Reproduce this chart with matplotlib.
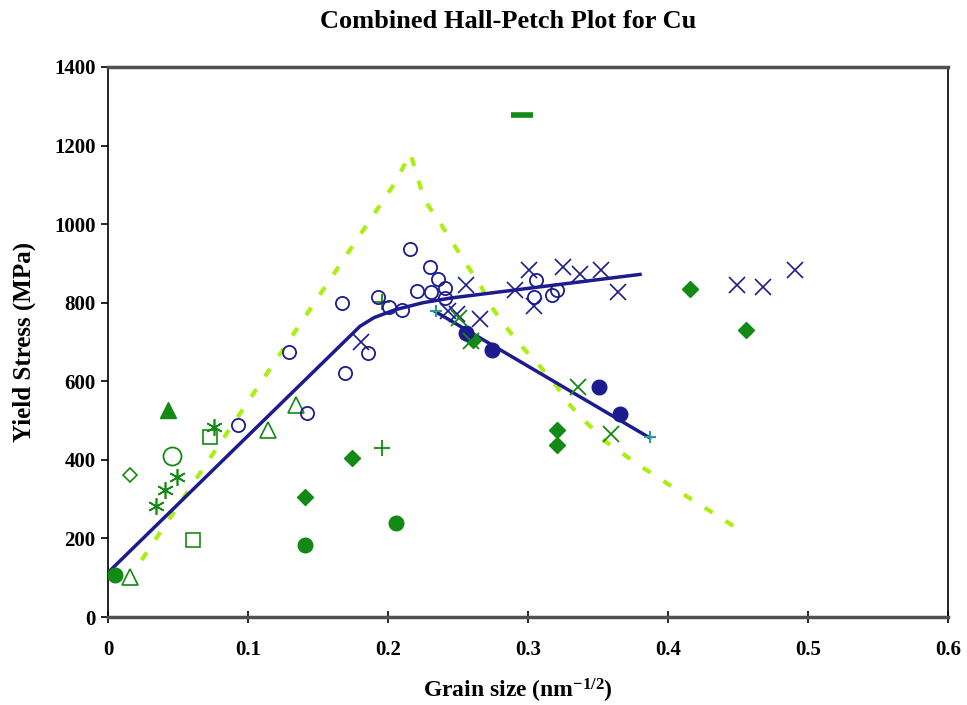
import matplotlib.pyplot as plt

plt.rcParams['font.family'] = ['Liberation Serif', 'DejaVu Serif']
plt.rcParams['font.weight'] = 'bold'
plt.rcParams['mathtext.default'] = 'regular'

green = '#138a13'
navy = '#1c1c8f'
lime = '#aaef10'
teal = '#2f9a96'

# fitted trend lines
fit1_x = [0.002, 0.180, 0.190, 0.205, 0.225, 0.245, 0.380]
fit1_y = [120, 740, 762, 782, 800, 812, 872]
fit2_x = [0.234, 0.387]
fit2_y = [777, 456]

# model curve (dashed)
model_x = [0.024, 0.205, 0.216, 0.226, 0.236, 0.246, 0.255, 0.266, 0.274, 0.285,
           0.296, 0.309, 0.321, 0.330, 0.342, 0.356, 0.380, 0.410, 0.448]
model_y = [145, 1105, 1180, 1061, 1010, 954, 903, 845, 789, 735,
           687, 636, 585, 539, 494, 445, 385, 315, 229]

# green data sets
g_fcirc_x = [0.005, 0.141, 0.206]
g_fcirc_y = [107, 183, 239]
g_fdiam_x = [0.141, 0.174, 0.261, 0.321, 0.321, 0.416, 0.456]
g_fdiam_y = [305, 405, 705, 477, 439, 835, 730]
g_ftri_x = [0.043]
g_ftri_y = [527]
g_otri_x = [0.016, 0.114, 0.134]
g_otri_y = [102, 476, 540]
g_osq_x = [0.061, 0.073]
g_osq_y = [196, 458]
g_ocirc_x = [0.046]
g_ocirc_y = [410]
g_odiam_x = [0.016]
g_odiam_y = [361]
g_ast_x = [0.034, 0.041, 0.049, 0.076]
g_ast_y = [282, 323, 356, 483]
g_plus_x = [0.196, 0.196]
g_plus_y = [430, 802]
g_cross_x = [0.251, 0.259, 0.336, 0.359]
g_cross_y = [761, 702, 585, 466]
g_dash_x = [0.296]
g_dash_y = [1278]
t_plus_x = [0.234, 0.387]
t_plus_y = [779, 458]

# blue data sets
b_ocirc_x = [0.093, 0.142, 0.129, 0.169, 0.167, 0.186, 0.193, 0.201, 0.210, 0.216,
             0.230, 0.236, 0.221, 0.231, 0.241, 0.241, 0.304, 0.306, 0.317, 0.321]
b_ocirc_y = [489, 519, 674, 621, 799, 672, 815, 789, 781, 937,
             891, 860, 830, 827, 837, 812, 814, 858, 819, 832]
b_fcirc_x = [0.256, 0.274, 0.351, 0.366]
b_fcirc_y = [723, 680, 585, 517]
b_cross_x = [0.181, 0.243, 0.249, 0.266, 0.256, 0.291, 0.301, 0.304, 0.325, 0.337,
             0.352, 0.364, 0.449, 0.468, 0.491]
b_cross_y = [700, 780, 772, 758, 845, 832, 882, 792, 890, 872,
             884, 827, 845, 840, 883]

fig = plt.figure(figsize=(9.67, 7.05), dpi=100)
ax = fig.add_axes([0.1117, 0.1248, 0.8686, 0.7802])

ax.plot(model_x, model_y, color=lime, lw=3, dashes=(2.2, 3.7), zorder=2)
ax.plot(fit1_x, fit1_y, color=navy, lw=2.5, zorder=3)
ax.plot(fit2_x, fit2_y, color=navy, lw=2.5, zorder=3)

ax.plot(g_fcirc_x, g_fcirc_y, 'o', color=green, ms=10.5, ls='none', zorder=4)
ax.plot(g_fdiam_x, g_fdiam_y, 'D', color=green, ms=8, ls='none', zorder=4)
ax.plot(g_ftri_x, g_ftri_y, '^', color=green, ms=12, ls='none', zorder=4)
ax.plot(g_otri_x, g_otri_y, '^', mfc='none', mec=green, mew=1.2, ms=11, ls='none', zorder=4)
ax.plot(g_osq_x, g_osq_y, 's', mfc='none', mec=green, mew=1.2, ms=10, ls='none', zorder=4)
ax.plot(g_ocirc_x, g_ocirc_y, 'o', mfc='none', mec=green, mew=1.3, ms=13, ls='none', zorder=4)
ax.plot(g_odiam_x, g_odiam_y, 'D', mfc='none', mec=green, mew=1.2, ms=7, ls='none', zorder=4)
ax.plot(g_ast_x, g_ast_y, marker=(6, 2, 0), color=green, mew=1.2, ms=12, ls='none', zorder=4)
ax.plot(g_plus_x, g_plus_y, '+', color=green, mew=1.3, ms=11, ls='none', zorder=4)
ax.plot(g_cross_x, g_cross_y, 'x', color=green, mew=1.3, ms=11, ls='none', zorder=5)
ax.plot(g_dash_x, g_dash_y, '_', color=green, mew=4, ms=16, ls='none', zorder=4)
ax.plot(t_plus_x, t_plus_y, '+', color=teal, mew=1.5, ms=9, ls='none', zorder=5)

ax.plot(b_ocirc_x, b_ocirc_y, 'o', mfc='none', mec=navy, mew=1.3, ms=9.5, ls='none', zorder=4)
ax.plot(b_fcirc_x, b_fcirc_y, 'o', color=navy, ms=10.5, ls='none', zorder=4)
ax.plot(b_cross_x, b_cross_y, 'x', color=navy, mew=1.2, ms=11, ls='none', zorder=4)

ax.set_xlim(0, 0.6)
ax.set_ylim(0, 1400)
ax.set_xticks([0, 0.1, 0.2, 0.3, 0.4, 0.5, 0.6])
ax.set_xticklabels(['0', '0.1', '0.2', '0.3', '0.4', '0.5', '0.6'])
ax.set_yticks(range(0, 1401, 200))

for side in ['top', 'bottom']:
    ax.spines[side].set_linewidth(2.5)
    ax.spines[side].set_color('#505050')
for side in ['left', 'right']:
    ax.spines[side].set_linewidth(1.2)
    ax.spines[side].set_color('black')

ax.tick_params(axis='x', direction='inout', length=9, width=1.2, labelsize=15, pad=12)
ax.tick_params(axis='y', direction='out', length=5, width=1.2, labelsize=15, pad=4)

fig.text(508 / 967, 1 - 21 / 705, 'Combined Hall-Petch Plot for Cu',
         fontsize=19, fontweight='bold', ha='center', va='center')
ax.set_xlabel('Grain size (nm$^{-1/2}$)', fontsize=17, fontweight='bold')
ax.xaxis.set_label_coords(0.488, -0.108)
ax.set_ylabel('Yield Stress (MPa)', fontsize=18, fontweight='bold')
ax.yaxis.set_label_coords(-0.086, 0.5)

fig.savefig('out.png', dpi=100)
